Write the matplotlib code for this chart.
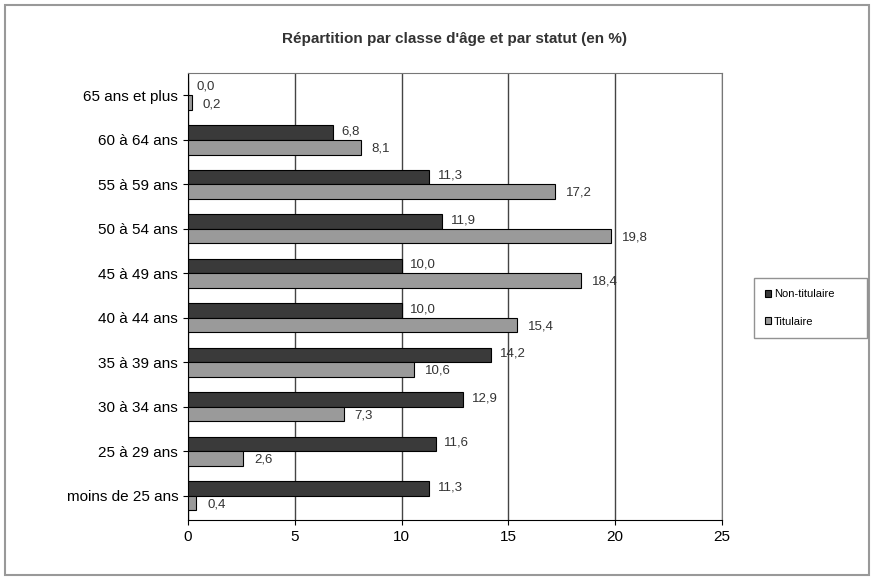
import matplotlib.pyplot as plt
import numpy as np
from matplotlib.patches import Rectangle

categories = ["65 ans et plus", "60 à 64 ans", "55 à 59 ans", "50 à 54 ans",
              "45 à 49 ans", "40 à 44 ans", "35 à 39 ans", "30 à 34 ans",
              "25 à 29 ans", "moins de 25 ans"]
non_titulaire = [0.0, 6.8, 11.3, 11.9, 10.0, 10.0, 14.2, 12.9, 11.6, 11.3]
titulaire = [0.2, 8.1, 17.2, 19.8, 18.4, 15.4, 10.6, 7.3, 2.6, 0.4]
xticks = [0, 5, 10, 15, 20, 25]

plt.rcParams['font.family'] = ['Liberation Sans', 'DejaVu Sans']

fig = plt.figure(figsize=(8.74, 5.80), dpi=100)
fig.patches.append(Rectangle((0.006, 0.008), 0.988, 0.984, transform=fig.transFigure,
                             fill=False, edgecolor='#999999', linewidth=1.5))
ax = fig.add_axes([0.215, 0.103, 0.611, 0.771])

y = np.arange(len(categories))[::-1]
h = 0.33
ax.barh(y + h / 2, non_titulaire, height=h, color='#3a3a3a', edgecolor='black',
        linewidth=0.8, label='Non-titulaire', zorder=3)
ax.barh(y - h / 2, titulaire, height=h, color='#9a9a9a', edgecolor='black',
        linewidth=0.8, label='Titulaire', zorder=3)

for yi, v in zip(y, non_titulaire):
    ax.text(v + 0.4, yi + h / 2 + 0.03, f"{v:.1f}".replace('.', ','), va='center',
            ha='left', fontsize=9.5, color='#333333')
for yi, v in zip(y, titulaire):
    ax.text(v + 0.5, yi - h / 2 - 0.03, f"{v:.1f}".replace('.', ','), va='center',
            ha='left', fontsize=9.5, color='#333333')

ax.set_xlim(0, 25)
ax.set_ylim(-0.55, len(categories) - 0.5)
ax.set_xticks(xticks)
ax.set_yticks(y)
ax.set_yticklabels(categories, fontsize=11)
ax.tick_params(axis='x', labelsize=11)
ax.grid(axis='x', color='#444444', linewidth=1, zorder=0)
for s in ax.spines.values():
    s.set_color('#777777')
ax.spines['left'].set_color('black')
ax.spines['bottom'].set_color('black')

ax.set_title("Répartition par classe d'âge et par statut (en %)", fontsize=11,
             fontweight='bold', color='#333333', pad=22)

leg = fig.legend(loc='center left', bbox_to_anchor=(0.856, 0.409, 0.142, 0.12),
                 mode='expand', fontsize=8, frameon=True, fancybox=False,
                 edgecolor='#777777', handlelength=0.6, handleheight=0.6,
                 handletextpad=0.2, labelspacing=1.6, borderpad=1.0)

plt.savefig('out.png', dpi=100)
